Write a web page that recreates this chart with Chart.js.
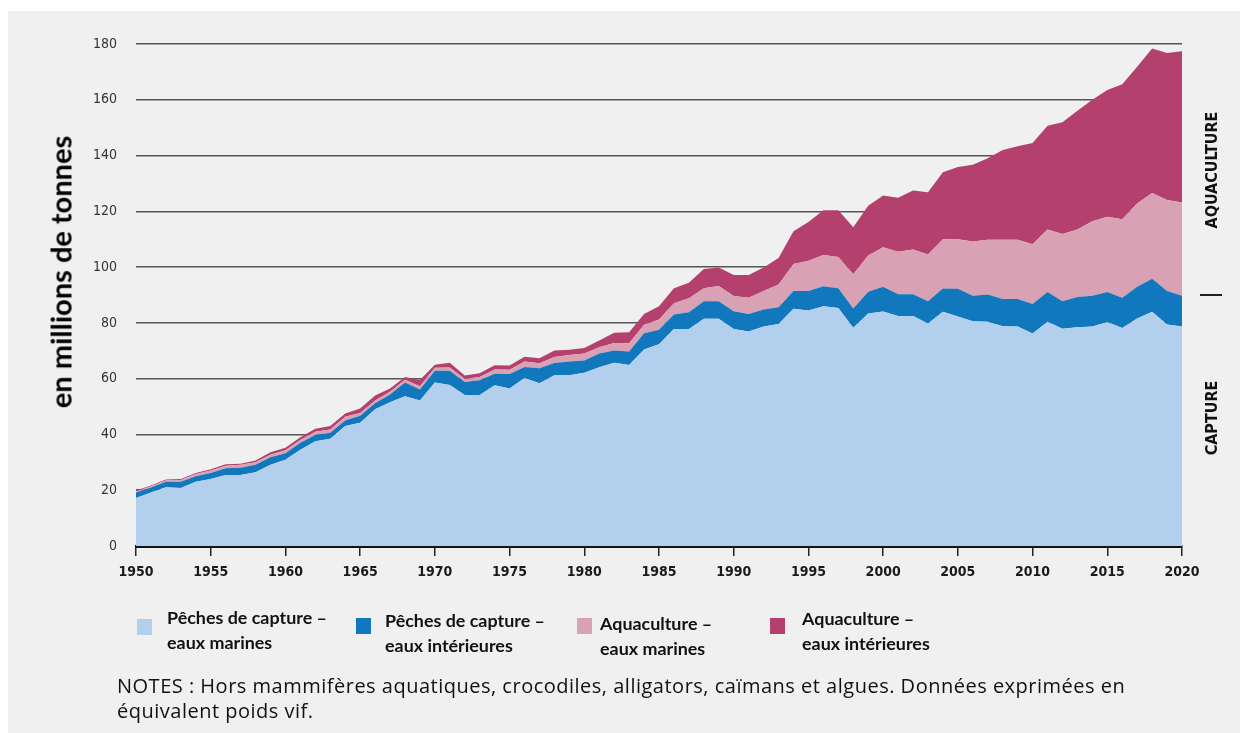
<!DOCTYPE html>
<html>
<head>
<meta charset="utf-8">
<script src="https://cdn.jsdelivr.net/npm/chart.js@4/dist/chart.umd.min.js"></script>
<style>
  body { margin: 0; background: #fff; width: 1248px; height: 733px; overflow: hidden; position: relative; }
  .panel { position: absolute; left: 8px; top: 11px; width: 1232px; height: 722px; background: #f0f0f0; }
  #chart { position: absolute; left: 0; top: 0; }
  .ytitle { position: absolute; left: 60px; top: 272px; transform: translate(-50%, -50%) rotate(-90deg);
    font: bold 29px Lato, "Open Sans", sans-serif; color: #000; white-space: nowrap; }
  .side { position: absolute; left: 1211px; transform: translate(-50%, -50%) rotate(-90deg);
    font: bold 16px "Liberation Sans Narrow", "DejaVu Sans Condensed", sans-serif; color: #111; white-space: nowrap; }
  .sep { position: absolute; left: 1200px; top: 294px; width: 22px; height: 2px; background: #222; }
  .leg { position: absolute; font: bold 17.9px Lato, sans-serif; color: #111; line-height: 25px; }
  .sw { position: absolute; width: 15px; height: 16px; }
  .notes { position: absolute; left: 117px; top: 673px; font: 20px "Open Sans", sans-serif; letter-spacing: 0.5px;
    color: #111; line-height: 25px; white-space: nowrap; }
</style>
</head>
<body>
<div class="panel"></div>
<canvas id="chart" width="1248" height="733"></canvas>
<div class="ytitle">en millions de tonnes</div>
<div class="side" style="top:170px">AQUACULTURE</div>
<div class="sep"></div>
<div class="side" style="top:418px">CAPTURE</div>

<div class="sw" style="left:137px;top:619px;background:#b2d0ed"></div>
<div class="leg" style="left:167px;top:605px">Pêches de capture –<br>eaux marines</div>
<div class="sw" style="left:356px;top:618px;background:#1278be"></div>
<div class="leg" style="left:385px;top:608px">Pêches de capture –<br>eaux intérieures</div>
<div class="sw" style="left:577px;top:618px;background:#d8a1b4"></div>
<div class="leg" style="left:600px;top:611px">Aquaculture –<br>eaux marines</div>
<div class="sw" style="left:770px;top:618px;background:#b4406e"></div>
<div class="leg" style="left:802px;top:606px">Aquaculture –<br>eaux intérieures</div>

<div class="notes">NOTES : Hors mammifères aquatiques, crocodiles, alligators, caïmans et algues. Données exprimées en<br>équivalent poids vif.</div>

<script>
const years = [];
for (let y = 1950; y <= 2020; y++) years.push(y);

const yTicks = [0, 20, 40, 60, 80, 100, 120, 140, 160, 180];
const xTicks = [1950, 1955, 1960, 1965, 1970, 1975, 1980, 1985, 1990, 1995, 2000, 2005, 2010, 2015, 2020];

// millions de tonnes
const captureMarine = [
  17.2, 19.2, 21.1, 20.8, 23.0, 24.0, 25.5, 25.5, 26.4, 29.1,
  30.9, 34.5, 37.6, 38.5, 43.0, 44.2, 49.0, 51.5, 53.7, 52.2,
  58.6, 57.7, 54.1, 54.1, 57.6, 56.5, 60.2, 58.4, 61.2, 61.2,
  62.1, 64.1, 65.7, 64.9, 70.5, 72.3, 77.8, 77.8, 81.5, 81.5,
  77.8, 76.9, 78.7, 79.6, 85.1, 84.4, 86.0, 85.3, 78.3, 83.4,
  84.1, 82.5, 82.5, 79.8, 84.0, 82.3, 80.6, 80.4, 78.8, 78.7,
  76.2, 80.4, 77.9, 78.4, 78.7, 80.3, 78.2, 81.6, 84.0, 79.4,
  78.7
];
const captureInland = [
  2.0, 1.8, 1.9, 2.2, 2.0, 2.2, 2.4, 2.6, 2.7, 2.7,
  2.4, 2.5, 2.2, 2.1, 2.0, 2.5, 2.2, 2.8, 4.9, 3.9,
  4.2, 5.1, 4.7, 5.3, 4.2, 5.2, 4.0, 5.3, 4.4, 5.0,
  4.4, 4.9, 4.4, 4.8, 5.8, 5.2, 5.2, 6.0, 6.3, 6.3,
  6.4, 6.3, 6.1, 6.0, 6.3, 7.0, 7.1, 7.1, 6.9, 7.8,
  8.9, 7.8, 7.8, 8.0, 8.3, 9.9, 9.1, 9.8, 9.8, 9.9,
  10.6, 10.7, 9.9, 10.9, 11.0, 10.8, 10.8, 11.4, 11.8, 12.0,
  11.0
];
const aquaMarine = [
  0.3, 0.4, 0.5, 0.7, 0.8, 0.9, 0.9, 1.0, 0.9, 0.9,
  1.0, 1.0, 1.2, 1.2, 1.3, 1.0, 1.0, 1.0, 1.0, 1.2,
  1.1, 1.2, 1.1, 1.2, 1.5, 1.5, 2.0, 1.8, 2.2, 2.3,
  2.5, 2.3, 2.7, 3.0, 3.0, 3.7, 4.0, 5.0, 4.6, 5.4,
  5.4, 5.8, 6.6, 8.2, 9.7, 10.9, 11.2, 11.2, 12.2, 13.0,
  14.1, 15.2, 16.0, 16.7, 17.7, 17.8, 19.5, 19.6, 21.2, 21.2,
  21.4, 22.4, 24.1, 24.2, 26.7, 27.0, 28.2, 29.8, 30.8, 32.7,
  33.5
];
const aquaInland = [
  0.4, 0.3, 0.3, 0.3, 0.4, 0.4, 0.5, 0.4, 0.7, 0.9,
  0.9, 1.0, 1.0, 1.2, 1.2, 1.6, 1.8, 1.2, 1.0, 2.2,
  1.1, 1.7, 1.2, 1.3, 1.5, 1.5, 1.7, 1.8, 2.3, 1.9,
  2.0, 2.4, 3.7, 3.9, 3.9, 4.8, 5.4, 5.6, 6.9, 6.7,
  7.6, 8.2, 8.5, 9.5, 11.8, 13.9, 16.1, 16.8, 16.9, 17.8,
  18.6, 19.4, 21.2, 22.3, 24.0, 25.9, 27.5, 29.2, 32.2, 33.5,
  36.3, 37.2, 40.0, 42.6, 43.6, 45.4, 48.4, 49.0, 51.8, 52.7,
  54.2
];

const seriesNames = [
  'Pêches de capture – eaux marines',
  'Pêches de capture – eaux intérieures',
  'Aquaculture – eaux marines',
  'Aquaculture – eaux intérieures'
];
const seriesColors = ['#b2d0ed', '#1278be', '#d8a1b4', '#b4406e'];
const seriesValues = [captureMarine, captureInland, aquaMarine, aquaInland];

const tickFont = { family: '"Liberation Sans Narrow", "DejaVu Sans Condensed", sans-serif', size: 14 };

const datasets = seriesValues.map((vals, i) => ({
  label: seriesNames[i],
  data: years.map((yr, k) => ({ x: yr, y: vals[k] })),
  backgroundColor: seriesColors[i],
  borderWidth: 0,
  pointRadius: 0,
  fill: i === 0 ? 'origin' : '-1',
  tension: 0
}));

new Chart(document.getElementById('chart'), {
  type: 'line',
  data: { datasets: datasets },
  options: {
    responsive: false,
    animation: false,
    layout: { padding: { left: 0, top: 44, right: 66, bottom: 150 } },
    plugins: { legend: { display: false }, tooltip: { enabled: false } },
    scales: {
      x: {
        type: 'linear',
        min: 1950,
        max: 2020,
        afterBuildTicks: s => { s.ticks = xTicks.map(v => ({ value: v })); },
        afterFit: s => { s.height = 37; },
        ticks: {
          callback: v => String(v),
          color: '#1a1a1a',
          font: Object.assign({ weight: 'bold' }, tickFont),
          padding: 8,
          maxRotation: 0
        },
        grid: { drawOnChartArea: false, drawTicks: true, tickLength: 10, color: '#222', lineWidth: 1.5 },
        border: { display: true, color: '#111', width: 3 }
      },
      y: {
        stacked: true,
        min: 0,
        max: 180,
        afterBuildTicks: s => { s.ticks = yTicks.map(v => ({ value: v })); },
        afterFit: s => { s.width = 136; },
        ticks: { color: '#333', font: tickFont, padding: 19 },
        grid: { drawTicks: false, color: '#555', lineWidth: 1.5 },
        border: { display: false }
      }
    }
  }
});
</script>
</body>
</html>
